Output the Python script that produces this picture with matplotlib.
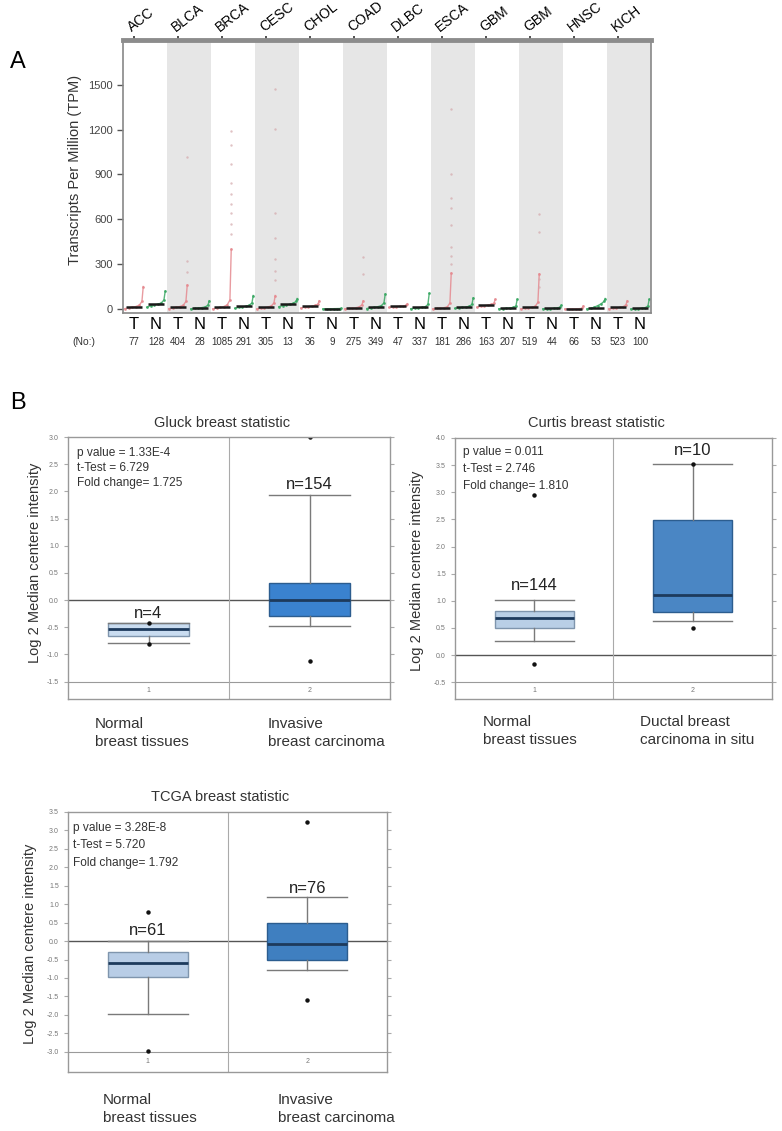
import numpy as np
import matplotlib
matplotlib.use("Agg")
import matplotlib.pyplot as plt

plt.rcParams['font.family'] = ['Liberation Sans', 'DejaVu Sans']

W, H = 782, 1131

def fx(x):
    return x / W

def fy(y):
    return 1 - y / H

# ---------------- panel A data (TPM) ----------------
cancers = ["ACC", "BLCA", "BRCA", "CESC", "CHOL", "COAD", "DLBC", "ESCA",
           "GBM", "GBM", "HNSC", "KICH"]
tn_labels = ["T", "N"] * 12
n_samples = [77, 128, 404, 28, 1085, 291, 305, 13, 36, 9, 275, 349,
             47, 337, 181, 286, 163, 207, 519, 44, 66, 53, 523, 100]
medians = [15, 30, 15, 8, 15, 18, 12, 30, 18, 2, 8, 15,
           18, 10, 8, 13, 25, 7, 10, 4, 2, 6, 10, 5]
# sorted expression profile of each column (low -> high)
profiles = [
    [2, 8, 12, 16, 25, 50, 150],
    [12, 22, 28, 32, 40, 60, 120],
    [2, 8, 12, 16, 25, 50, 160],
    [1, 4, 6, 9, 14, 25, 55],
    [1, 6, 11, 16, 28, 60, 400],
    [5, 10, 14, 18, 25, 40, 90],
    [1, 5, 9, 13, 20, 40, 90],
    [15, 22, 27, 31, 38, 50, 70],
    [6, 12, 16, 19, 24, 32, 55],
    [0.5, 1, 1.5, 2, 2.5, 3, 4],
    [1, 4, 6, 8, 14, 28, 55],
    [3, 8, 12, 15, 22, 40, 100],
    [10, 14, 16, 18, 20, 24, 35],
    [2, 5, 8, 10, 15, 30, 105],
    [1, 4, 6, 8, 14, 40, 240],
    [4, 9, 11, 13, 18, 30, 75],
    [12, 18, 22, 26, 30, 38, 65],
    [1, 3, 5, 7, 10, 20, 65],
    [1, 4, 7, 10, 18, 45, 235],
    [1, 2, 3, 5, 7, 12, 25],
    [0.2, 0.5, 1, 1.5, 2, 4, 20],
    [0.5, 4, 12, 22, 35, 50, 70],
    [1, 4, 7, 10, 16, 28, 55],
    [0.5, 1.5, 3, 5, 9, 20, 65],
]
outliers = [
    [], [],
    [1020, 320, 250], [],
    [1190, 1100, 970, 840, 770, 700, 640, 570, 500], [],
    [1475, 1205, 640, 475, 335, 255, 195], [],
    [], [],
    [345, 235], [],
    [], [],
    [1335, 905, 740, 675, 565, 415, 355, 300], [],
    [], [],
    [635, 515, 200, 150], [],
    [], [],
    [], [],
]
gray_pairs = [1, 3, 5, 7, 9, 11]

# ---------------- panel B data ----------------
titles = ["Gluck breast statistic", "Curtis breast statistic", "TCGA breast statistic"]
stat_lines = [
    ["p value = 1.33E-4", "t-Test = 6.729", "Fold change= 1.725"],
    ["p value = 0.011", "t-Test = 2.746", "Fold change= 1.810"],
    ["p value = 3.28E-8", "t-Test = 5.720", "Fold change= 1.792"],
]
n_labels = [["n=4", "n=154"], ["n=144", "n=10"], ["n=61", "n=76"]]
group_labels = [
    ["Normal\nbreast tissues", "Invasive\nbreast carcinoma"],
    ["Normal\nbreast tissues", "Ductal breast\ncarcinoma in situ"],
    ["Normal\nbreast tissues", "Invasive\nbreast carcinoma"],
]
gluck_stats = [
    dict(whislo=-0.785, q1=-0.66, med=-0.53, q3=-0.42, whishi=-0.42, fliers=[-0.43, -0.80]),
    dict(whislo=-0.47, q1=-0.30, med=0.0, q3=0.31, whishi=1.93, fliers=[3.0, -1.13]),
]
curtis_stats = [
    dict(whislo=0.26, q1=0.49, med=0.69, q3=0.81, whishi=1.01, fliers=[2.95, -0.17]),
    dict(whislo=0.63, q1=0.80, med=1.10, q3=2.49, whishi=3.52, fliers=[3.52, 0.49]),
]
tcga_stats = [
    dict(whislo=-1.97, q1=-0.965, med=-0.60, q3=-0.29, whishi=0.0, fliers=[0.79, -2.97]),
    dict(whislo=-0.78, q1=-0.50, med=-0.08, q3=0.48, whishi=1.19, fliers=[3.23, -1.60]),
]
box_stats = [gluck_stats, curtis_stats, tcga_stats]

fig = plt.figure(figsize=(W / 100, H / 100), dpi=100)

# ================= panel A =================
axA = fig.add_axes([fx(123), fy(313), (651 - 123) / W, (313 - 40) / H])
ncol = len(tn_labels)
for p in gray_pairs:
    axA.axvspan(2 * p, 2 * p + 2, color='#e6e6e6', lw=0, zorder=0)

frac = np.array([0.08, 0.25, 0.42, 0.58, 0.74, 0.86, 0.92])
for i in range(ncol):
    col = '#e58a90' if tn_labels[i] == "T" else '#3aa864'
    axA.plot(i + frac, profiles[i], color=col, lw=1.0, alpha=0.85,
             marker='.', ms=2, zorder=2)
    if outliers[i]:
        axA.scatter([i + 0.9] * len(outliers[i]), outliers[i], s=3,
                    color='#d4a8ab', alpha=0.7, lw=0, zorder=2)
axA.hlines(medians, np.arange(ncol) + 0.12, np.arange(ncol) + 0.88,
           color='#1a1a1a', lw=1.8, zorder=3)

axA.set_xlim(0, ncol)
axA.set_ylim(-27, 1800)
axA.set_yticks([0, 300, 600, 900, 1200, 1500])
axA.tick_params(axis='y', labelsize=8, labelcolor='#444444', color='#555555',
                length=4, width=1)
axA.set_xticks(np.arange(ncol) + 0.5, tn_labels)
axA.tick_params(axis='x', length=0, labelsize=12, pad=3)
for s in ['left', 'bottom', 'right']:
    axA.spines[s].set_color('#888888')
    axA.spines[s].set_linewidth(1.2)
axA.spines['top'].set_color('#8c8c8c')
axA.spines['top'].set_linewidth(3.5)

secA = axA.secondary_xaxis('top')
secA.set_xticks(np.arange(0, ncol, 2) + 0.5, cancers)
secA.tick_params(length=3, width=1.2, color='#333333', pad=1, labelsize=10)
plt.setp(secA.get_xticklabels(), rotation=38, ha='left', rotation_mode='anchor')
secA.spines['top'].set_visible(False)

for i, n in enumerate(n_samples):
    axA.text(i + 0.5, -0.106, str(n), transform=axA.get_xaxis_transform(),
             ha='center', va='center', fontsize=7, color='#333333')
fig.text(fx(84), fy(342), "(No:)", ha='center', va='center', fontsize=7.5, color='#333333')
fig.text(fx(75), fy(170), "Transcripts Per Million (TPM)", rotation=90,
         ha='center', va='center', fontsize=10.5, color='#333333')
fig.text(fx(18), fy(62), "A", ha='center', va='center', fontsize=17)

# ================= panel B =================
fig.text(fx(18), fy(403), "B", ha='center', va='center', fontsize=17)

box_px = [(68, 390, 437, 699), (455, 772, 438, 699), (68, 387, 812, 1072)]
ylims = [(-1.82, 3.0), (-0.81, 4.0), (-3.55, 3.5)]
floors = [-1.5, -0.5, -3.0]
tumor_colors = ['#3a82cf', '#4a86c4', '#3f7fc0']
normal_colors = ['#c9dcf0', '#b9cfe6', '#b8cde6']
n_label_y = [[-0.25, 2.12], [1.29, 3.77], [0.30, 1.42]]
title_xy = [(222, 423), (596, 423), (220, 797)]
ylabel_xy = [(35, 563), (417, 571), (30, 944)]
stat_xy = [(77, 453, 15), (463, 452, 17), (73, 828, 17.5)]
group_xy = [[(95, 717), (268, 717)], [(483, 715), (640, 715)], [(103, 1093), (278, 1093)]]

for k in range(3):
    l, r, t, b = box_px[k]
    ax = fig.add_axes([fx(l), fy(b), (r - l) / W, (b - t) / H])
    stats = box_stats[k]
    bp = ax.bxp(stats, positions=[1, 2], widths=0.5, capwidths=0.5,
                patch_artist=True, manage_ticks=False,
                boxprops=dict(lw=1.0),
                medianprops=dict(color='#1d3a5c', lw=2),
                whiskerprops=dict(color='#7a7a7a', lw=1.0),
                capprops=dict(color='#7a7a7a', lw=1.0),
                flierprops=dict(marker='o', ms=2.2, mfc='#111111', mec='#111111'))
    bp['boxes'][0].set_facecolor(normal_colors[k])
    bp['boxes'][0].set_edgecolor('#7f95ad')
    bp['boxes'][1].set_facecolor(tumor_colors[k])
    bp['boxes'][1].set_edgecolor('#2c5d8f')

    ax.set_xlim(0.5, 2.5)
    ax.set_ylim(*ylims[k])
    ax.axhline(0, color='#555555', lw=1.0, zorder=1)
    ax.axhline(floors[k], color='#9a9a9a', lw=0.8, zorder=1)
    ax.axvline(1.5, color='#aaaaaa', lw=0.8, zorder=1)
    ax.set_yticks(np.arange(floors[k], ylims[k][1] + 0.01, 0.5))
    ax.yaxis.set_major_formatter(matplotlib.ticker.FormatStrFormatter('%.1f'))
    ax.tick_params(axis='y', labelsize=5, labelcolor='#777777', color='#aaaaaa',
                   length=3, right=True)
    ax.set_xticks([])
    for s in ax.spines.values():
        s.set_color('#999999')
        s.set_linewidth(1.0)
    ymid = (floors[k] + ylims[k][0]) / 2
    for g in (1, 2):
        ax.text(g, ymid, str(g), ha='center', va='center', fontsize=5, color='#777777')
    for g in range(2):
        ax.text(g + 1, n_label_y[k][g], n_labels[k][g], ha='center', va='center',
                fontsize=12, color='#222222')

    sx, sy, sd = stat_xy[k]
    for j, line in enumerate(stat_lines[k]):
        fig.text(fx(sx), fy(sy + j * sd), line, ha='left', va='center',
                 fontsize=8.6, color='#333333')
    fig.text(fx(title_xy[k][0]), fy(title_xy[k][1]), titles[k], ha='center',
             va='center', fontsize=10.5, color='#333333')
    fig.text(fx(ylabel_xy[k][0]), fy(ylabel_xy[k][1]), "Log 2 Median centere intensity",
             rotation=90, ha='center', va='center', fontsize=10.5, color='#333333')
    for g in range(2):
        gx, gy = group_xy[k][g]
        fig.text(fx(gx), fy(gy), group_labels[k][g], ha='left', va='top',
                 fontsize=11, color='#333333', linespacing=1.35)

fig.savefig("out.png", dpi=100)
